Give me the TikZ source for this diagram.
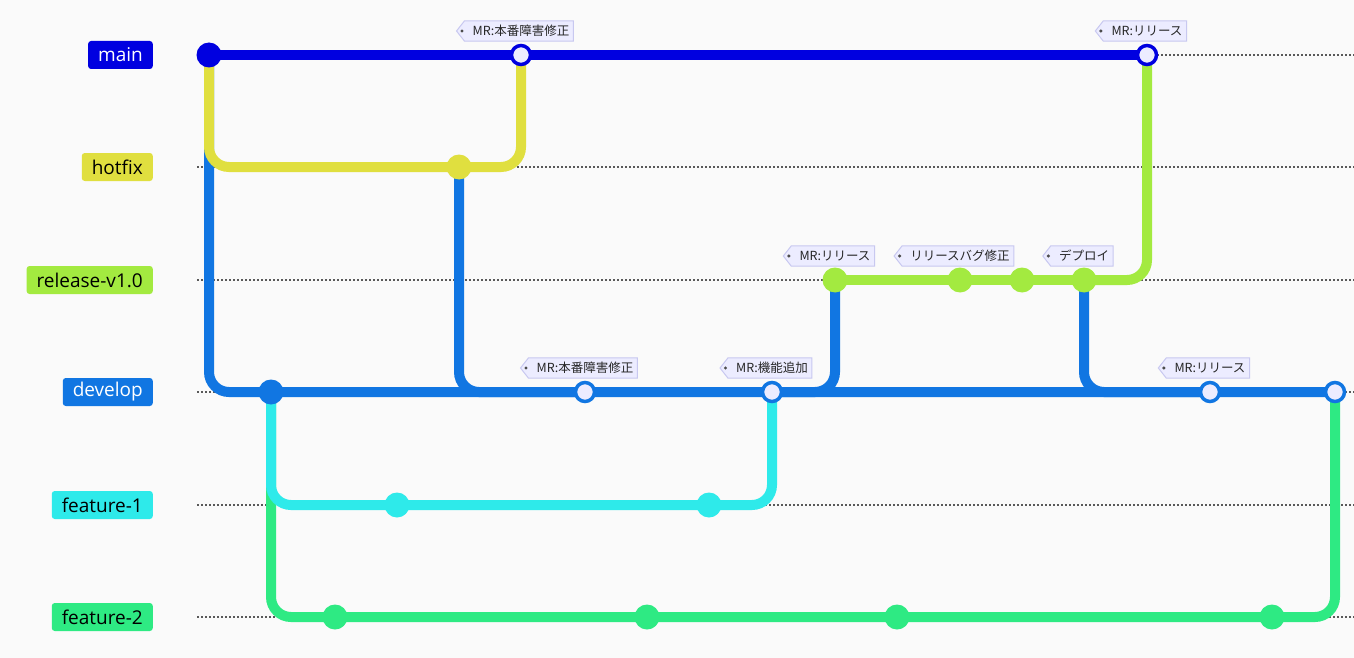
\documentclass[tikz,border=0pt]{standalone}
\usepackage{fontspec}
\setmainfont{Open Sans}
\newfontfamily\cjk{Noto Sans CJK JP}
\usetikzlibrary{calc}
\definecolor{bgc}{RGB}{250,250,250}
\definecolor{mainc}{RGB}{0,0,224}
\definecolor{hotfixc}{RGB}{224,223,63}
\definecolor{releasec}{RGB}{163,234,64}
\definecolor{developc}{RGB}{17,118,226}
\definecolor{fonec}{RGB}{46,234,234}
\definecolor{ftwoc}{RGB}{46,234,131}
\definecolor{tagfill}{RGB}{236,236,255}
\definecolor{tagline}{RGB}{200,200,240}
\pgfdeclarelayer{bgfill}
\pgfdeclarelayer{bg}
\pgfdeclarelayer{tagbg}
\pgfdeclarelayer{tagfg}
\pgfsetlayers{bgfill,bg,main,tagbg,tagfg}
\tikzset{
  blabel/.style={anchor=east, rounded corners=3pt, fill=#1, minimum height=28pt,
    inner xsep=10pt, inner ysep=0pt, font=\fontsize{19}{19}\selectfont},
  commitdot/.style={circle, fill=#1, minimum size=25pt, inner sep=0pt},
  mergedot/.style={circle, fill=tagfill, draw=#1, line width=3.5pt, minimum size=19pt, inner sep=0pt},
  conn/.style={draw=#1, line width=10pt, rounded corners=20pt},
  rowline/.style={draw=black!65, line width=1.2pt, dash pattern=on 2pt off 2pt},
  tagtext/.style={inner xsep=4pt, inner ysep=0pt, minimum height=20pt, text=black!85, font=\cjk\fontsize{12.5}{12.5}\selectfont},
  tagshape/.style={fill=tagfill, draw=tagline, line width=1pt},
}
\newcommand{\committag}[3]{%
  \begin{pgfonlayer}{tagfg}
    \node[tagtext] (#1) at ($(#2)+(0,-24)$) {#3};
  \end{pgfonlayer}
  \begin{pgfonlayer}{tagbg}
    \draw[tagshape] ([xshift=-4pt]#1.north west) -- (#1.north east) -- (#1.south east)
      -- ([xshift=-4pt]#1.south west) -- ([xshift=-12pt]#1.west) -- cycle;
    \fill[black!70] ([xshift=-6.5pt]#1.west) circle (1.7pt);
  \end{pgfonlayer}}
\begin{document}
\begin{tikzpicture}[x=1pt,y=-1pt]
\useasboundingbox (0,0) rectangle (1354,658);
\begin{pgfonlayer}{bgfill}
\fill[bgc] (0,0) rectangle (1354,658);
\end{pgfonlayer}
% branch labels
\node[blabel=mainc, text=white] (lmain) at (153,55) {main};
\node[blabel=hotfixc, text=black] (lhot) at (153,167) {hotfix};
\node[blabel=releasec, text=black] (lrel) at (153,280) {release-v1.0};
\node[blabel=developc, text=white] (ldev) at (153,392) {develop};
\node[blabel=fonec, text=black] (lf1) at (153,505) {feature-1};
\node[blabel=ftwoc, text=black] (lf2) at (153,617) {feature-2};
% row lines
\coordinate (rs1) at (197,55);  \coordinate (re1) at (1354,55);
\coordinate (rs2) at (197,167); \coordinate (re2) at (1354,167);
\coordinate (rs3) at (197,280); \coordinate (re3) at (1354,280);
\coordinate (rs4) at (197,392); \coordinate (re4) at (1354,392);
\coordinate (rs5) at (197,505); \coordinate (re5) at (1354,505);
\coordinate (rs6) at (197,617); \coordinate (re6) at (1354,617);
\begin{pgfonlayer}{bgfill}
\foreach \i in {1,...,6} {\draw[rowline] (rs\i) -- (re\i);}
\end{pgfonlayer}
% commits
\node[commitdot=mainc] (m1) at (209,55) {};
\node[mergedot=mainc] (m2) at (521,55) {};
\node[mergedot=mainc] (m3) at (1147,55) {};
\node[commitdot=hotfixc] (h1) at (459,167) {};
\node[commitdot=releasec] (r1) at (835,280) {};
\node[commitdot=releasec] (r2) at (960,280) {};
\node[commitdot=releasec] (r3) at (1022,280) {};
\node[commitdot=releasec] (r4) at (1084,280) {};
\node[commitdot=developc] (d1) at (271,392) {};
\node[mergedot=developc] (d2) at (585,392) {};
\node[mergedot=developc] (d3) at (772,392) {};
\node[mergedot=developc] (d4) at (1210,392) {};
\node[mergedot=developc] (d5) at (1335,392) {};
\node[commitdot=fonec] (fa1) at (397,505) {};
\node[commitdot=fonec] (fa2) at (709,505) {};
\node[commitdot=ftwoc] (fb1) at (335,617) {};
\node[commitdot=ftwoc] (fb2) at (647,617) {};
\node[commitdot=ftwoc] (fb3) at (897,617) {};
\node[commitdot=ftwoc] (fb4) at (1272,617) {};
% connectors (behind commits)
\begin{pgfonlayer}{bg}
\draw[conn=mainc] (m1.center) -- (m3.center);
\draw[conn=developc] (m1.center) |- (d1.center) -- (d5.center);
\draw[conn=developc] (h1.center) |- (d2.center);
\draw[conn=developc] (d3.center) -| (r1.center);
\draw[conn=developc] (r4.center) |- (d4.center);
\draw[conn=hotfixc] (m1.center) |- (h1.center);
\draw[conn=hotfixc] (h1.center) -| (m2.center);
\draw[conn=releasec] (r1.center) -- (r4.center);
\draw[conn=releasec] (r4.center) -| (m3.center);
\draw[conn=ftwoc] (d1.center) |- (fb1.center) -- (fb4.center);
\draw[conn=ftwoc] (fb4.center) -| (d5.center);
\draw[conn=fonec] (d1.center) |- (fa1.center) -- (fa2.center);
\draw[conn=fonec] (fa2.center) -| (d3.center);
\end{pgfonlayer}
% tags
\committag{t1}{m2}{MR:本番障害修正}
\committag{t2}{m3}{MR:リリース}
\committag{t3}{r1}{MR:リリース}
\committag{t4}{r2}{リリースバグ修正}
\committag{t5}{r4}{デプロイ}
\committag{t6}{d2}{MR:本番障害修正}
\committag{t7}{d3}{MR:機能追加}
\committag{t8}{d4}{MR:リリース}
\end{tikzpicture}
\end{document}
